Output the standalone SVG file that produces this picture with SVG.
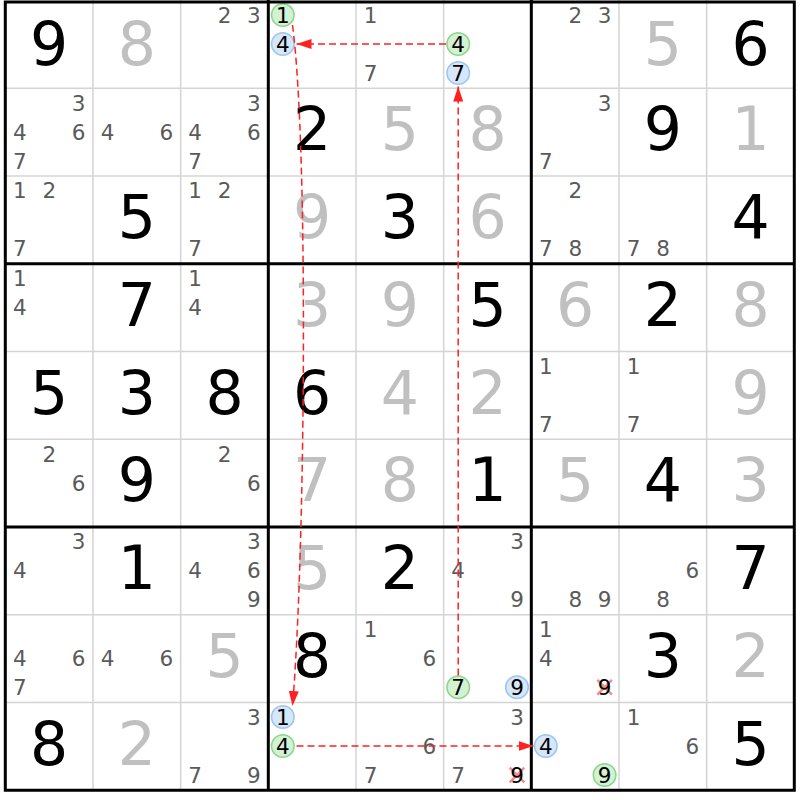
<svg xmlns="http://www.w3.org/2000/svg" width="800" height="800" viewBox="0 0 800 800">
<style>
text{font-family:"DejaVu Sans",Verdana,sans-serif;text-anchor:middle}
.g{font-size:60px;fill:#000}
.s{font-size:60px;fill:#c0c0c0}
.c{font-size:21.5px;fill:#5a5a5a}
.k{font-size:21.5px;fill:#000}
.on{fill:#d3f1d3;stroke:#8ed68e;stroke-width:1.5}
.off{fill:#d6e7fa;stroke:#9ec6ef;stroke-width:1.5}
.x{stroke:#f07070;stroke-opacity:0.8;stroke-width:2.5}
.thin{stroke:#d4d4d4;stroke-width:1.5}
.thick{stroke:#000;stroke-width:3}
.lk{fill:none;stroke:#ff2020;stroke-width:1.5;stroke-dasharray:7 4}
</style>
<defs>
<marker id="ah" markerUnits="userSpaceOnUse" markerWidth="16" markerHeight="11" refX="15" refY="5" orient="auto">
<path d="M0,0 L15,5 L0,10 Z" fill="#ff2020"/>
</marker>
</defs>
<rect x="0" y="0" width="800" height="800" fill="#fff"/>
<g id="grid-thin" class="thin">
<line x1="92.97" y1="0" x2="92.97" y2="790"/>
<line x1="180.64" y1="0" x2="180.64" y2="790"/>
<line x1="355.98" y1="0" x2="355.98" y2="790"/>
<line x1="443.65" y1="0" x2="443.65" y2="790"/>
<line x1="618.99" y1="0" x2="618.99" y2="790"/>
<line x1="706.66" y1="0" x2="706.66" y2="790"/>
<line x1="5" y1="88.25" x2="794" y2="88.25"/>
<line x1="5" y1="176" x2="794" y2="176"/>
<line x1="5" y1="351.5" x2="794" y2="351.5"/>
<line x1="5" y1="439.25" x2="794" y2="439.25"/>
<line x1="5" y1="614.75" x2="794" y2="614.75"/>
<line x1="5" y1="702.5" x2="794" y2="702.5"/>
</g>
<g id="cells">
<g id="r1c1"><text class="g" x="49.1" y="64.5">9</text></g>
<g id="r1c2"><text class="s" x="136.8" y="64.5">8</text></g>
<g id="r1c3"><text class="c" x="224.6" y="22.8">2</text><text class="c" x="253.9" y="22.8">3</text></g>
<g id="r1c4"><circle class="on" cx="282.8" cy="15" r="11.3"/><text class="k" x="282.8" y="22.8">1</text><circle class="off" cx="282.8" cy="44" r="11.3"/><text class="k" x="282.8" y="51.8">4</text></g>
<g id="r1c5"><text class="c" x="370.5" y="22.8">1</text><text class="c" x="370.5" y="80.8">7</text></g>
<g id="r1c6"><circle class="on" cx="458.2" cy="44" r="11.3"/><text class="k" x="458.2" y="51.8">4</text><circle class="off" cx="458.2" cy="73" r="11.3"/><text class="k" x="458.2" y="80.8">7</text></g>
<g id="r1c7"><text class="c" x="575.3" y="22.8">2</text><text class="c" x="604.6" y="22.8">3</text></g>
<g id="r1c8"><text class="s" x="662.9" y="64.5">5</text></g>
<g id="r1c9"><text class="g" x="750.5" y="64.5">6</text></g>

<g id="r2c1"><text class="c" x="78.6" y="110.55">3</text><text class="c" x="19.8" y="139.55">4</text><text class="c" x="78.6" y="139.55">6</text><text class="c" x="19.8" y="168.55">7</text></g>
<g id="r2c2"><text class="c" x="107.5" y="139.55">4</text><text class="c" x="166.3" y="139.55">6</text></g>
<g id="r2c3"><text class="c" x="253.9" y="110.55">3</text><text class="c" x="195.1" y="139.55">4</text><text class="c" x="253.9" y="139.55">6</text><text class="c" x="195.1" y="168.55">7</text></g>
<g id="r2c4"><text class="g" x="312.2" y="150.25">2</text></g>
<g id="r2c5"><text class="s" x="399.8" y="150.25">5</text></g>
<g id="r2c6"><text class="s" x="487.5" y="150.25">8</text></g>
<g id="r2c7"><text class="c" x="604.6" y="110.55">3</text><text class="c" x="545.8" y="168.55">7</text></g>
<g id="r2c8"><text class="g" x="662.9" y="150.25">9</text></g>
<g id="r2c9"><text class="s" x="750.5" y="150.25">1</text></g>

<g id="r3c1"><text class="c" x="19.8" y="198.3">1</text><text class="c" x="49.3" y="198.3">2</text><text class="c" x="19.8" y="256.3">7</text></g>
<g id="r3c2"><text class="g" x="136.8" y="238">5</text></g>
<g id="r3c3"><text class="c" x="195.1" y="198.3">1</text><text class="c" x="224.6" y="198.3">2</text><text class="c" x="195.1" y="256.3">7</text></g>
<g id="r3c4"><text class="s" x="312.2" y="238">9</text></g>
<g id="r3c5"><text class="g" x="399.8" y="238">3</text></g>
<g id="r3c6"><text class="s" x="487.5" y="238">6</text></g>
<g id="r3c7"><text class="c" x="575.3" y="198.3">2</text><text class="c" x="545.8" y="256.3">7</text><text class="c" x="575.3" y="256.3">8</text></g>
<g id="r3c8"><text class="c" x="633.5" y="256.3">7</text><text class="c" x="663" y="256.3">8</text></g>
<g id="r3c9"><text class="g" x="750.5" y="238">4</text></g>

<g id="r4c1"><text class="c" x="19.8" y="286.05">1</text><text class="c" x="19.8" y="315.05">4</text></g>
<g id="r4c2"><text class="g" x="136.8" y="325.75">7</text></g>
<g id="r4c3"><text class="c" x="195.1" y="286.05">1</text><text class="c" x="195.1" y="315.05">4</text></g>
<g id="r4c4"><text class="s" x="312.2" y="325.75">3</text></g>
<g id="r4c5"><text class="s" x="399.8" y="325.75">9</text></g>
<g id="r4c6"><text class="g" x="487.5" y="325.75">5</text></g>
<g id="r4c7"><text class="s" x="575.2" y="325.75">6</text></g>
<g id="r4c8"><text class="g" x="662.9" y="325.75">2</text></g>
<g id="r4c9"><text class="s" x="750.5" y="325.75">8</text></g>

<g id="r5c1"><text class="g" x="49.1" y="413.5">5</text></g>
<g id="r5c2"><text class="g" x="136.8" y="413.5">3</text></g>
<g id="r5c3"><text class="g" x="224.5" y="413.5">8</text></g>
<g id="r5c4"><text class="g" x="312.2" y="413.5">6</text></g>
<g id="r5c5"><text class="s" x="399.8" y="413.5">4</text></g>
<g id="r5c6"><text class="s" x="487.5" y="413.5">2</text></g>
<g id="r5c7"><text class="c" x="545.8" y="373.8">1</text><text class="c" x="545.8" y="431.8">7</text></g>
<g id="r5c8"><text class="c" x="633.5" y="373.8">1</text><text class="c" x="633.5" y="431.8">7</text></g>
<g id="r5c9"><text class="s" x="750.5" y="413.5">9</text></g>

<g id="r6c1"><text class="c" x="49.3" y="461.55">2</text><text class="c" x="78.6" y="490.55">6</text></g>
<g id="r6c2"><text class="g" x="136.8" y="501.25">9</text></g>
<g id="r6c3"><text class="c" x="224.6" y="461.55">2</text><text class="c" x="253.9" y="490.55">6</text></g>
<g id="r6c4"><text class="s" x="312.2" y="501.25">7</text></g>
<g id="r6c5"><text class="s" x="399.8" y="501.25">8</text></g>
<g id="r6c6"><text class="g" x="487.5" y="501.25">1</text></g>
<g id="r6c7"><text class="s" x="575.2" y="501.25">5</text></g>
<g id="r6c8"><text class="g" x="662.9" y="501.25">4</text></g>
<g id="r6c9"><text class="s" x="750.5" y="501.25">3</text></g>

<g id="r7c1"><text class="c" x="78.6" y="549.3">3</text><text class="c" x="19.8" y="578.3">4</text></g>
<g id="r7c2"><text class="g" x="136.8" y="589">1</text></g>
<g id="r7c3"><text class="c" x="253.9" y="549.3">3</text><text class="c" x="195.1" y="578.3">4</text><text class="c" x="253.9" y="578.3">6</text><text class="c" x="253.9" y="607.3">9</text></g>
<g id="r7c4"><text class="s" x="312.2" y="589">5</text></g>
<g id="r7c5"><text class="g" x="399.8" y="589">2</text></g>
<g id="r7c6"><text class="c" x="517" y="549.3">3</text><text class="c" x="458.2" y="578.3">4</text><text class="c" x="517" y="607.3">9</text></g>
<g id="r7c7"><text class="c" x="575.3" y="607.3">8</text><text class="c" x="604.6" y="607.3">9</text></g>
<g id="r7c8"><text class="c" x="692.3" y="578.3">6</text><text class="c" x="663" y="607.3">8</text></g>
<g id="r7c9"><text class="g" x="750.5" y="589">7</text></g>

<g id="r8c1"><text class="c" x="19.8" y="666.05">4</text><text class="c" x="78.6" y="666.05">6</text><text class="c" x="19.8" y="695.05">7</text></g>
<g id="r8c2"><text class="c" x="107.5" y="666.05">4</text><text class="c" x="166.3" y="666.05">6</text></g>
<g id="r8c3"><text class="s" x="224.5" y="676.75">5</text></g>
<g id="r8c4"><text class="g" x="312.2" y="676.75">8</text></g>
<g id="r8c5"><text class="c" x="370.5" y="637.05">1</text><text class="c" x="429.3" y="666.05">6</text></g>
<g id="r8c6"><circle class="on" cx="458.2" cy="687.25" r="11.3"/><text class="k" x="458.2" y="695.05">7</text><circle class="off" cx="517" cy="687.25" r="11.3"/><text class="k" x="517" y="695.05">9</text></g>
<g id="r8c7"><text class="c" x="545.8" y="637.05">1</text><text class="c" x="545.8" y="666.05">4</text><path class="x" d="M597.3,679.8 L611.9,694.6 M611.9,679.8 L597.3,694.6"/><text class="k" x="604.6" y="695.05">9</text></g>
<g id="r8c8"><text class="g" x="662.9" y="676.75">3</text></g>
<g id="r8c9"><text class="s" x="750.5" y="676.75">2</text></g>

<g id="r9c1"><text class="g" x="49.1" y="764.5">8</text></g>
<g id="r9c2"><text class="s" x="136.8" y="764.5">2</text></g>
<g id="r9c3"><text class="c" x="253.9" y="724.8">3</text><text class="c" x="195.1" y="782.8">7</text><text class="c" x="253.9" y="782.8">9</text></g>
<g id="r9c4"><circle class="off" cx="282.8" cy="717" r="11.3"/><text class="k" x="282.8" y="724.8">1</text><circle class="on" cx="282.8" cy="746" r="11.3"/><text class="k" x="282.8" y="753.8">4</text></g>
<g id="r9c5"><text class="c" x="429.3" y="753.8">6</text><text class="c" x="370.5" y="782.8">7</text></g>
<g id="r9c6"><text class="c" x="517" y="724.8">3</text><text class="c" x="458.2" y="782.8">7</text><path class="x" d="M509.7,767.6 L524.3,782.4 M524.3,767.6 L509.7,782.4"/><text class="k" x="517" y="782.8">9</text></g>
<g id="r9c7"><circle class="off" cx="545.8" cy="746" r="11.3"/><text class="k" x="545.8" y="753.8">4</text><circle class="on" cx="604.6" cy="775" r="11.3"/><text class="k" x="604.6" y="782.8">9</text></g>
<g id="r9c8"><text class="c" x="633.5" y="724.8">1</text><text class="c" x="692.3" y="753.8">6</text></g>
<g id="r9c9"><text class="g" x="750.5" y="764.5">5</text></g>
</g>
<g id="grid-thick" class="thick" fill="none">
<line x1="268.31" y1="0" x2="268.31" y2="790"/>
<line x1="531.32" y1="0" x2="531.32" y2="790"/>
<line x1="5" y1="263.75" x2="794" y2="263.75"/>
<line x1="5" y1="527" x2="794" y2="527"/>
<rect x="5.3" y="2" width="789" height="788.25"/>
</g>
<g id="connectors">
<path class="lk" d="M446,44 L296.5,44" marker-end="url(#ah)"/>
<path class="lk" d="M292.5,25 C309,150 305,560 292.5,706" marker-end="url(#ah)"/>
<path class="lk" d="M458.2,675.5 L458.2,86.5" marker-end="url(#ah)"/>
<path class="lk" d="M296.5,746 L533.5,746" marker-end="url(#ah)"/>
</g>
</svg>
